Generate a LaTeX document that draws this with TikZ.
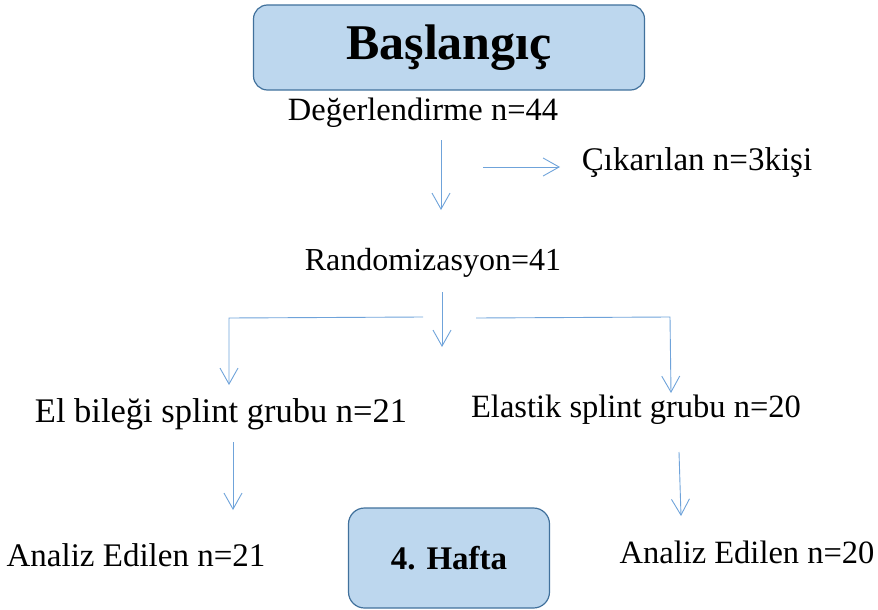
\documentclass[tikz,border=0pt]{standalone}
\usepackage{fontspec}
\setmainfont{Liberation Serif}
\usetikzlibrary{arrows.meta}
\definecolor{boxfill}{HTML}{BDD7EE}
\definecolor{boxline}{HTML}{41719C}
\definecolor{arrowcol}{HTML}{6FA3DA}
\newcommand{\fsz}[1]{\fontsize{#1}{#1}\selectfont}
\begin{document}
\begin{tikzpicture}[x=1pt,y=-1pt,
	stagebox/.style={draw=boxline, fill=boxfill, line width=1.2pt, rounded corners=14pt, font=\bfseries},
	label/.style={font=\fsz{32}, inner sep=0pt},
	flow/.style={draw=arrowcol, line width=0.9pt},
	every path/.style={-{Straight Barb[length=16pt,width=18pt,line width=0.9pt]}}]
		\useasboundingbox (0,0) rectangle (878,610);
		\node (Start) at (449,47.5) [stagebox, minimum width=391pt, minimum height=85pt, font=\fsz{50}\bfseries] {Başlangıç};
		\node (Week) at (449,558) [stagebox, minimum width=201pt, minimum height=100pt, rounded corners=16pt, font=\fsz{33}\bfseries] {4. Hafta};
		
		\node (Eval) at (423,113) [label, font=\fsz{32.5}] {Değerlendirme n=44};
		\node (Excl) at (697,163) [label, font=\fsz{33}] {Çıkarılan n=3kişi};
		\node (Rand) at (433,263) [label] {Randomizasyon=41};
		\node (Wrist) at (221,414) [label, font=\fsz{34.5}] {El bileği splint grubu n=21};
		\node (Elast) at (636,410) [label, font=\fsz{32.5}] {Elastik splint grubu n=20};
		\node (AnW) at (136,555) [label, font=\fsz{33}] {Analiz Edilen n=21};
		\node (AnE) at (747,552) [label, font=\fsz{32.5}] {Analiz Edilen n=20};
		
		\coordinate (e1) at (441,140);
		\coordinate (e2) at (441,210);
		\coordinate (x1) at (483,167);
		\coordinate (x2) at (560,167);
		\coordinate (r1) at (442,292);
		\coordinate (r2) at (442,347);
		\coordinate (lA) at (423,317);
		\coordinate (lB) at (229,318);
		\coordinate (lC) at (229,385);
		\coordinate (rA) at (476,318);
		\coordinate (rB) at (670,317);
		\coordinate (rC) at (671,393);
		\coordinate (w1) at (233,442);
		\coordinate (w2) at (233,510);
		\coordinate (s1) at (679,452);
		\coordinate (s2) at (681,516);
		
		\draw [flow] (e1) -- (e2);
		\draw [flow] (x1) -- (x2);
		\draw [flow] (r1) -- (r2);
		\draw [flow] (lA) -- (lB) -- (lC);
		\draw [flow] (rA) -- (rB) -- (rC);
		\draw [flow] (w1) -- (w2);
		\draw [flow] (s1) -- (s2);
		\end{tikzpicture}
\end{document}
